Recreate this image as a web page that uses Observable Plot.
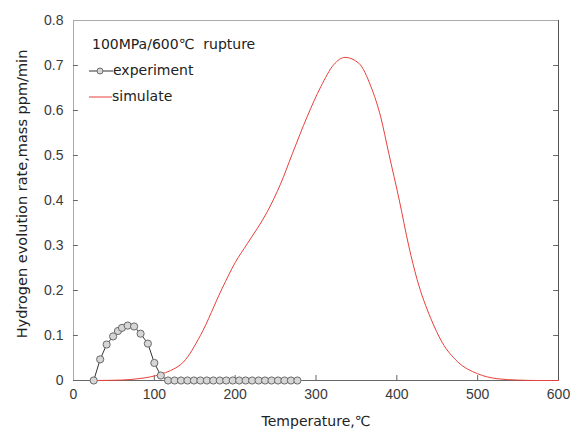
<!DOCTYPE html>
<html><head><meta charset="utf-8">
<script src="https://cdn.jsdelivr.net/npm/d3@7"></script>
<script src="https://cdn.jsdelivr.net/npm/@observablehq/plot@0.6"></script>
<style>
body{margin:0;background:#fff;}
#wrap{position:relative;width:582px;height:434px;font-family:"DejaVu Sans",sans-serif;color:#222;}
.lbl{position:absolute;white-space:pre;font-family:"DejaVu Sans",sans-serif;font-size:14px;color:#222;}
</style></head>
<body><div id="wrap"></div>
<script>
// experiment data
const expT = [25, 33, 41, 49, 55, 60, 67, 75, 83, 92, 100, 108,
  117, 125, 133, 141, 149, 157, 165, 173, 181, 189, 197, 205, 213, 221, 229, 237, 245, 253, 261, 269, 277];
const expY = [0, 0.047, 0.080, 0.098, 0.110, 0.117, 0.122, 0.120, 0.104, 0.082, 0.039, 0.011,
  0, 0, 0, 0, 0, 0, 0, 0, 0, 0, 0, 0, 0, 0, 0, 0, 0, 0, 0, 0, 0];
// simulate data
const simT = [25, 60, 80, 95, 108, 120, 136, 157, 184, 200, 215, 240, 256, 271, 289, 306, 322, 336, 353, 368, 380, 390, 403, 415, 425, 442, 456, 475, 500, 524, 549, 575, 600];
const simY = [0, 0.001, 0.004, 0.008, 0.014, 0.022, 0.041, 0.100, 0.205, 0.262, 0.304, 0.376, 0.436, 0.505, 0.586, 0.653, 0.702, 0.718, 0.705, 0.653, 0.586, 0.505, 0.401, 0.297, 0.225, 0.138, 0.085, 0.042, 0.015, 0.004, 0.001, 0, 0];
const xTicks = [0, 100, 200, 300, 400, 500, 600];
const yTicks = [0, 0.1, 0.2, 0.3, 0.4, 0.5, 0.6, 0.7, 0.8];
const title = "100MPa/600℃  rupture";
const seriesNames = ["experiment", "simulate"];
const xLabel = "Temperature,℃";
const yLabel = "Hydrogen evolution rate,mass ppm/min";

const exp = expT.map((t, i) => ({t, v: expY[i]}));
const sim = simT.map((t, i) => ({t, v: simY[i]}));

const chart = Plot.plot({
  width: 582, height: 434,
  marginLeft: 73, marginRight: 24, marginTop: 20, marginBottom: 54,
  style: {fontFamily: "Liberation Sans, Arial, sans-serif", fontSize: "14px", color: "#3a3a3a", background: "#fff"},
  x: {domain: [0, 600], ticks: xTicks, tickSize: 0, tickPadding: 9, label: null},
  y: {domain: [0, 0.8], ticks: yTicks, tickSize: 0, tickPadding: 10, tickFormat: d => d === 0 ? "0" : d3.format(".1f")(d), label: null},
  marks: [
    Plot.frame({stroke: "#aaa"}),
    Plot.ruleX([600], {stroke: "#555"}),
    Plot.ruleY([0], {stroke: "#666"}),
    Plot.ruleY(yTicks.slice(1, -1), {x1: 0, x2: 6, stroke: "#666"}),
    Plot.ruleY(yTicks.slice(1, -1), {x1: 594, x2: 600, stroke: "#666"}),
    Plot.ruleX(xTicks.slice(1, -1), {y1: 0, y2: 0.011, stroke: "#666"}),
    Plot.line(sim, {x: "t", y: "v", stroke: "#e8403a", strokeWidth: 1, curve: "monotone-x"}),
    Plot.line(exp, {x: "t", y: "v", stroke: "#333", strokeWidth: 1}),
    Plot.dot(exp, {x: "t", y: "v", r: 3.6, fill: "#d6d6d6", stroke: "#6a6a6a", strokeWidth: 1})
  ]
});
const wrap = document.getElementById("wrap");
wrap.appendChild(chart);
const lg = document.createElement("div");
lg.innerHTML = `
<div class="lbl" style="left:92px;top:36px;">${title}</div>
<svg style="position:absolute;left:88px;top:65px;" width="26" height="12"><line x1="1" y1="6" x2="25" y2="6" stroke="#333" stroke-width="1"/><circle cx="12" cy="6" r="3" fill="#d6d6d6" stroke="#6a6a6a"/></svg>
<div class="lbl" style="left:113px;top:62px;">${seriesNames[0]}</div>
<svg style="position:absolute;left:88px;top:91px;" width="26" height="12"><line x1="1" y1="6" x2="24" y2="6" stroke="#e8403a" stroke-width="1"/></svg>
<div class="lbl" style="left:112px;top:88px;">${seriesNames[1]}</div>
<div class="lbl" style="left:316px;top:413px;transform:translateX(-50%);">${xLabel}</div>
<div class="lbl" style="left:22px;top:194px;font-size:14.5px;transform:translate(-50%,-50%) rotate(-90deg);">${yLabel}</div>`;
wrap.appendChild(lg);
</script></body></html>
